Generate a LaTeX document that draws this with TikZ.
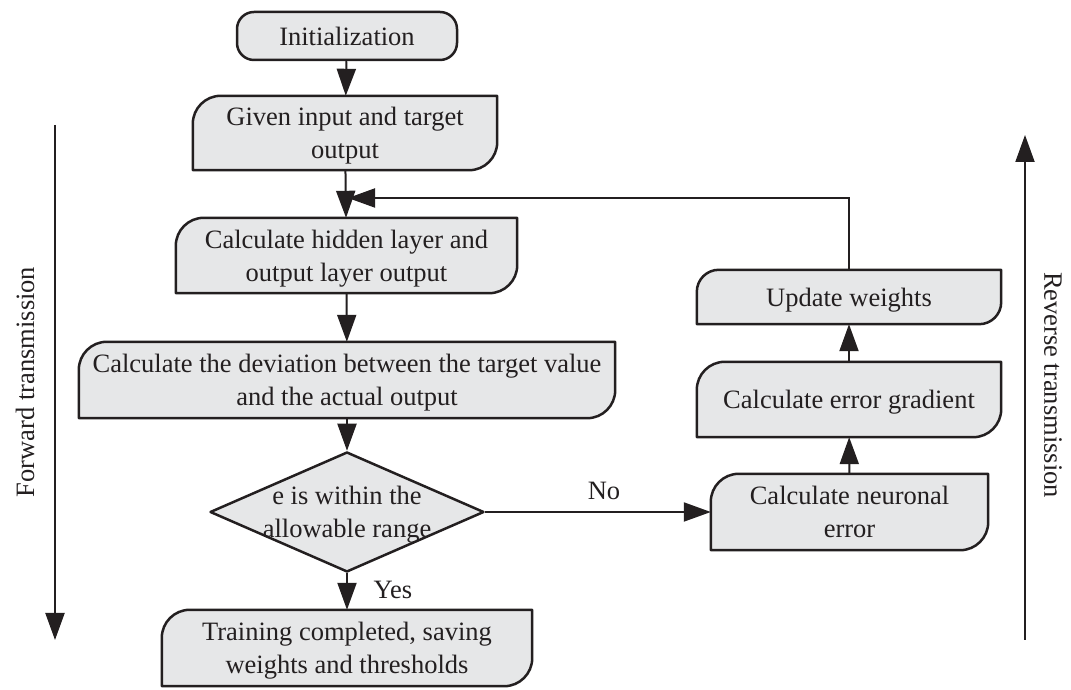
\documentclass[tikz,border=0pt]{standalone}
\usepackage{fontspec}
\setmainfont{Liberation Serif}
\usetikzlibrary{shapes.geometric,arrows.meta,calc}
\pgfdeclarelayer{bg}
\pgfsetlayers{bg,main}
\definecolor{boxfill}{RGB}{230,231,232}
\definecolor{ink}{RGB}{35,31,32}
\newcommand{\rbshape}[2]{\draw[boxline] (#1.north east) -- ([yshift=#2]#1.south east) arc[start angle=0,end angle=-90,radius=#2] -- (#1.south west) -- ([yshift=-#2]#1.north west) arc[start angle=180,end angle=90,radius=#2] -- cycle;}
\newcommand{\tst}{\rule{0pt}{24pt}}
\newcommand{\bst}{\rule[-5pt]{0pt}{5pt}}
\begin{document}
\begin{tikzpicture}[x=1pt,y=1pt,
  txt/.style={font=\fontsize{26.5}{33}\selectfont, text=ink, align=center, inner sep=0pt},
  boxnode/.style={txt, draw=none, minimum width=#1},
  boxline/.style={draw=ink, fill=boxfill, line width=2.5pt, line join=round},
  conn/.style={draw=ink, line width=2pt, -{Triangle[length=27pt,width=19pt]}},
  plainline/.style={draw=ink, line width=2pt}]
\useasboundingbox (0,0) rectangle (1071,690);

\node[boxnode=220pt, minimum height=48pt, draw=ink, fill=boxfill, line width=2.5pt, rounded corners=17pt] (init) at (347,654) {\tst Initialization\bst};
\node[boxnode=304pt, minimum height=74pt] (given) at (345,557) {\tst Given input and target\\output\bst};
\node[boxnode=341pt, minimum height=75pt] (hidden) at (346.5,434.5) {\tst Calculate hidden layer and\\output layer output\bst};
\node[boxnode=536pt, minimum height=76pt] (dev) at (347,310) {\tst Calculate the deviation between the target value\\and the actual output\bst};
\node[diamond, draw=ink, fill=boxfill, line width=2.5pt, minimum width=274pt, minimum height=120pt, inner sep=0pt, line join=round] (dec) at (347,178) {};
\node[txt] (dectext) at (347,178) {\tst e is within the\\allowable range\bst};
\node[boxnode=370pt, minimum height=76pt] (train) at (347,42) {\tst Training completed, saving\\weights and thresholds\bst};
\node[boxnode=304pt, minimum height=54pt] (upd) at (849,393) {\tst Update weights\bst};
\node[boxnode=304pt, minimum height=75pt] (grad) at (849,290.5) {\tst Calculate error gradient\bst};
\node[boxnode=277pt, minimum height=76pt] (neur) at (849.5,178) {\tst Calculate neuronal\\error\bst};

\begin{pgfonlayer}{bg}
\rbshape{given}{28pt}
\rbshape{hidden}{28pt}
\rbshape{dev}{28pt}
\rbshape{train}{28pt}
\rbshape{upd}{22pt}
\rbshape{grad}{28pt}
\rbshape{neur}{28pt}
\end{pgfonlayer}

\draw[conn] (init) -- (given);
\draw[conn] (given) -- (hidden);
\draw[conn] (hidden) -- (dev);
\draw[conn] (dev) -- (dec);
\draw[conn] (dec) -- (train);
\draw[conn] (dec) -- (neur);
\draw[conn] (neur) -- (grad);
\draw[conn] (grad) -- (upd);
\coordinate (fb) at (348,492);
\draw[conn] (upd.north) |- (fb);

\node[txt] (nolbl) at (604,199) {No};
\node[txt] (yeslbl) at (393,100) {Yes};

\coordinate (fwtop) at (55,565);
\coordinate (fwbot) at (55,50);
\draw[conn] (fwtop) -- (fwbot);
\coordinate (rvbot) at (1025,50);
\coordinate (rvtop) at (1025,555);
\draw[conn] (rvbot) -- (rvtop);
\node[txt, rotate=90] (fwtext) at (25,308) {Forward transmission};
\node[txt, rotate=-90] (rvtext) at (1053,305) {Reverse transmission};
\end{tikzpicture}
\end{document}
